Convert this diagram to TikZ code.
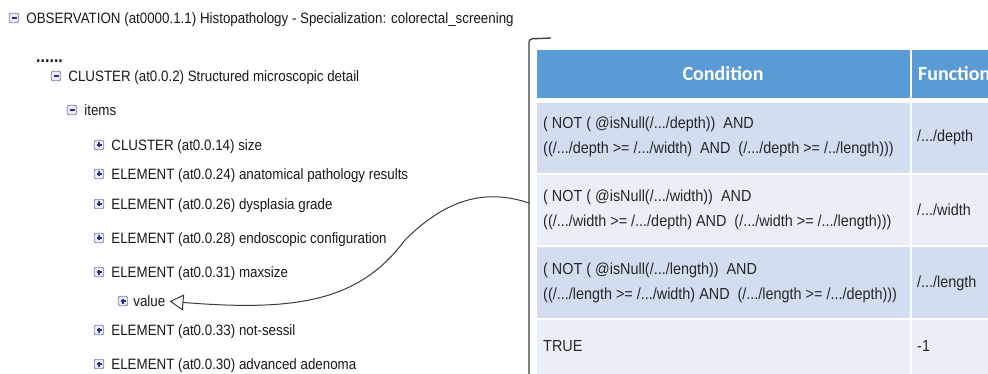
\documentclass[tikz,border=0pt]{standalone}
\usepackage{fontspec}
\setmainfont{Liberation Sans}
\newfontfamily\treefont[FakeStretch=0.89]{Liberation Sans}
\newfontfamily\cellfont[FakeStretch=0.9]{Liberation Sans}
\newfontfamily\headfont{Carlito}
\usetikzlibrary{positioning,arrows.meta}
\definecolor{headblue}{HTML}{5B9BD5}
\definecolor{rowdark}{HTML}{D2DEEF}
\definecolor{rowlight}{HTML}{EAEFF7}
\definecolor{iconline}{HTML}{8484AE}
\definecolor{signblue}{HTML}{2B2BA8}
\definecolor{inkgray}{HTML}{3C3C3C}

\begin{document}
\begin{tikzpicture}[x=1pt,y=-1pt,node distance=7pt,
  item/.style={font=\treefont\fontsize{15}{17}\selectfont,text=black!90,inner sep=0pt,text height=10.7pt,text depth=0pt,anchor=west},
  icon/.style={draw=iconline,fill=iconline!15,rounded corners=2pt,minimum size=9.5pt,inner sep=0pt,line width=0.9pt},
  minusbox/.style={icon,path picture={
    \draw[signblue,line width=1.1pt] ([xshift=-2.5pt]path picture bounding box.center) -- ([xshift=2.5pt]path picture bounding box.center);}},
  plusbox/.style={icon,path picture={
    \draw[signblue,line width=1.1pt] ([xshift=-2.5pt]path picture bounding box.center) -- ([xshift=2.5pt]path picture bounding box.center)
      ([yshift=-2.5pt]path picture bounding box.center) -- ([yshift=2.5pt]path picture bounding box.center);}},
  cell/.style={font=\cellfont\fontsize{16}{25}\selectfont,text=black!85,align=left,anchor=west,inner sep=0pt},
  head/.style={font=\headfont\bfseries\fontsize{20}{22}\selectfont,text=white,inner sep=0pt}]
  \useasboundingbox (0,0) rectangle (988,374);
  \fill[white] (0,0) rectangle (988,374);
  \clip (0,0) rectangle (988,374);

  % tree
  \node[minusbox] (mOBS) at (14,18) {};
  \node[item,right=of mOBS] (OBS) {OBSERVATION (at0000.1.1) Histopathology - Specialization: colorectal\_screening};
  \node[item,font=\treefont\bfseries\fontsize{18}{18}\selectfont] (dots) at (36,57) {......};
  \node[minusbox] (mCL) at (56,76) {};
  \node[item,right=of mCL] (CL) {CLUSTER (at0.0.2) Structured microscopic detail};
  \node[minusbox] (mIT) at (72,110) {};
  \node[item,right=of mIT] (IT) {items};
  \node[plusbox] (mSZ) at (99,145) {};
  \node[item,right=of mSZ] (SZ) {CLUSTER (at0.0.14) size};
  \node[plusbox] (mAP) at (99,174) {};
  \node[item,right=of mAP] (AP) {ELEMENT (at0.0.24) anatomical pathology results};
  \node[plusbox] (mDG) at (99,204) {};
  \node[item,right=of mDG] (DG) {ELEMENT (at0.0.26) dysplasia grade};
  \node[plusbox] (mEC) at (99,238) {};
  \node[item,right=of mEC] (EC) {ELEMENT (at0.0.28) endoscopic configuration};
  \node[plusbox] (mMS) at (99,272) {};
  \node[item,right=of mMS] (MS) {ELEMENT (at0.0.31) maxsize};
  \node[plusbox] (mV) at (123,301) {};
  \node[item,right=5pt of mV] (V) {value};
  \node[plusbox] (mNS) at (99,330) {};
  \node[item,right=of mNS] (NS) {ELEMENT (at0.0.33) not-sessil};
  \node[plusbox] (mAA) at (99,364) {};
  \node[item,right=of mAA] (AA) {ELEMENT (at0.0.30) advanced adenoma};

  % table
  \fill[headblue] (537,50) rectangle (909.5,98);
  \fill[headblue] (911.5,50) rectangle (990,98);
  \foreach \ya/\yb/\shade in {103/173/rowdark,175/245/rowlight,247/318/rowdark,320/380/rowlight}{
    \fill[\shade] (537,\ya) rectangle (909.5,\yb);
    \fill[\shade] (911.5,\ya) rectangle (990,\yb);
  }
  \node[head] (hC) at (723,74) {Condition};
  \node[head,anchor=west] (hF) at (918,74) {Function};
  \node[cell] (c1) at (543,137) {( NOT ( @isNull(/.../depth))\ \ AND\\((/.../depth >= /.../width)\ \ AND\ \ (/.../depth >= /../length)))};
  \node[cell] (c2) at (543,210) {( NOT ( @isNull(/.../width))\ \ AND\\((/.../width >= /.../depth)\ AND\ \ (/.../width >= /.../length)))};
  \node[cell] (c3) at (543,283) {( NOT ( @isNull(/.../length))\ \ AND\\((/.../length >= /.../width)\ AND\ \ (/.../length >= /.../depth)))};
  \node[cell] (c4) at (543,346) {TRUE};
  \node[cell] (f1) at (917,137) {/.../depth};
  \node[cell] (f2) at (917,210) {/.../width};
  \node[cell] (f3) at (917,283) {/.../length};
  \node[cell] (f4) at (917,346) {-1};

  % bracket and link
  \draw[inkgray,line width=1.3pt,rounded corners=3pt] (551,38) -- (529,39) -- (529,380);
  \coordinate (hook) at (529,203);
  \draw[inkgray,line width=1pt,shorten >=4pt,-{Triangle[open,length=14pt,width=16pt]}]
    (hook) .. controls (490,190) and (450,195) .. (405,240)
    .. controls (360,300) and (300,312) .. (V.east);
\end{tikzpicture}
\end{document}
